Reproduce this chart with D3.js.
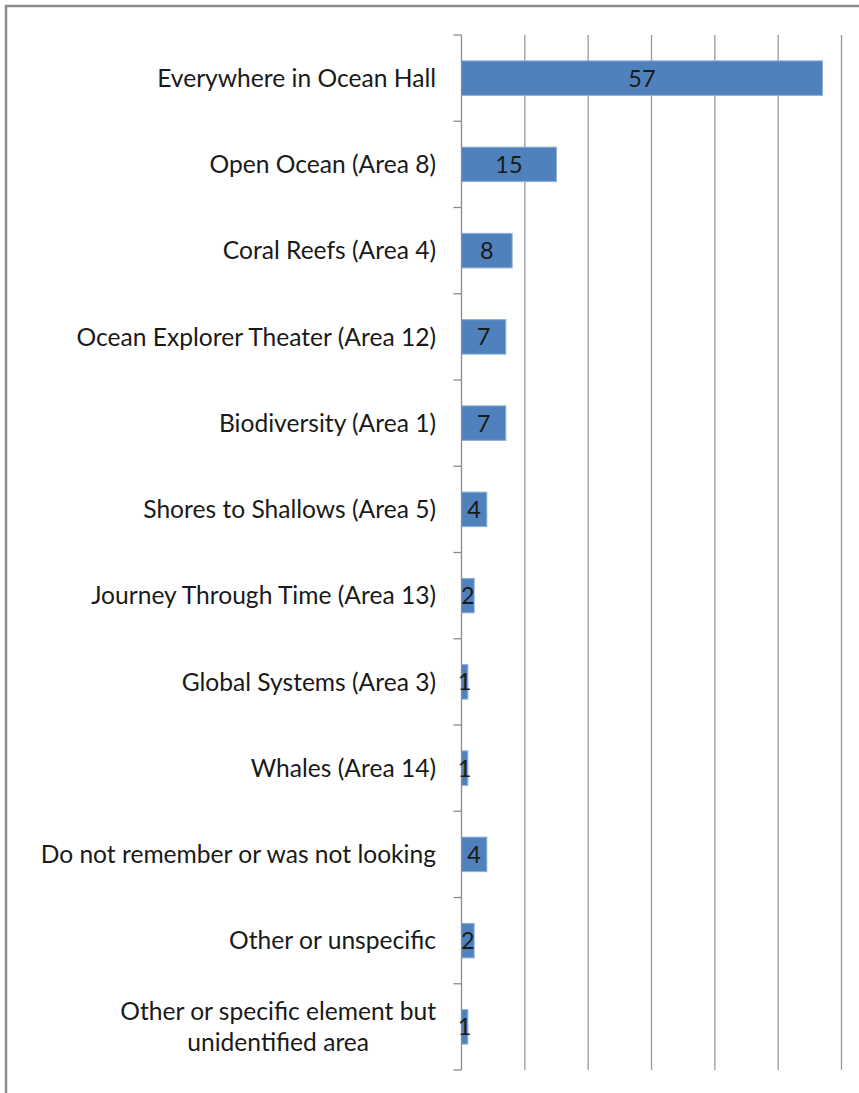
<!DOCTYPE html>
<html>
<head>
<meta charset="utf-8">
<script src="https://cdn.jsdelivr.net/npm/d3@7"></script>
<style>
  html, body { margin: 0; padding: 0; background: #fff; }
  svg { display: block; }
  text { font-family: Lato, "Open Sans", sans-serif; fill: #1a1a1a; }
</style>
</head>
<body>
<script>
// Where visitors say they saw it in Ocean Hall (counts)
const categories = [
  "Everywhere in Ocean Hall",
  "Open Ocean (Area 8)",
  "Coral Reefs (Area 4)",
  "Ocean Explorer Theater (Area 12)",
  "Biodiversity (Area 1)",
  "Shores to Shallows (Area 5)",
  "Journey Through Time (Area 13)",
  "Global Systems (Area 3)",
  "Whales (Area 14)",
  "Do not remember or was not looking",
  "Other or unspecific",
  "Other or specific element but unidentified area"
];
const values = [57, 15, 8, 7, 7, 4, 2, 1, 1, 4, 2, 1];
const xTicks = [0, 10, 20, 30, 40, 50, 60];

const W = 859, H = 1093;
const labelSize = 24.6, valueSize = 23.5;
const svg = d3.select("body").append("svg").attr("width", W).attr("height", H);

// Chart frame (runs off the right and bottom edges)
svg.append("path")
  .attr("d", `M6,${H + 5} L6,6 L${W + 5},6`)
  .attr("fill", "none")
  .attr("stroke", "#8c8c8c")
  .attr("stroke-width", 2.5);

const x = d3.scaleLinear().domain([0, 60]).range([461.5, 841.5]);
const y = d3.scaleBand().domain(categories).range([35, 1070]).paddingInner(0.6).paddingOuter(0.3);

// Vertical gridlines
svg.append("g").selectAll("line")
  .data(xTicks.slice(1))
  .join("line")
  .attr("x1", d => x(d)).attr("x2", d => x(d))
  .attr("y1", 35).attr("y2", 1070)
  .attr("stroke", "#9a9a9a")
  .attr("stroke-width", 1.3);

// Bars
svg.append("g").selectAll("rect")
  .data(categories)
  .join("rect")
  .attr("x", x(0))
  .attr("y", d => y(d))
  .attr("width", (d, i) => x(values[i]) - x(0))
  .attr("height", y.bandwidth())
  .attr("fill", "#4f81bd")
  .attr("stroke", "#8eb0d9")
  .attr("stroke-width", 1);

// Category axis with outward ticks at band boundaries
const bounds = d3.range(categories.length + 1).map(i => 35 + i * (1035 / categories.length));
const axisG = svg.append("g");
axisG.append("line")
  .attr("x1", x(0)).attr("x2", x(0)).attr("y1", 35).attr("y2", 1070)
  .attr("stroke", "#8c8c8c").attr("stroke-width", 1.3);
axisG.selectAll("line.tick")
  .data(bounds)
  .join("line")
  .attr("class", "tick")
  .attr("x1", x(0) - 8).attr("x2", x(0))
  .attr("y1", d => d).attr("y2", d => d)
  .attr("stroke", "#8c8c8c").attr("stroke-width", 1.3);

// Category labels, long ones wrapped onto two centred lines
const labelSplit = {
  "Other or specific element but unidentified area": ["Other or specific element but", "unidentified area"]
};
const labels = svg.append("g").selectAll("g")
  .data(categories)
  .join("g")
  .attr("transform", d => `translate(436,${y(d) + y.bandwidth() / 2})`);
labels.each(function (d) {
  const g = d3.select(this);
  const lines = labelSplit[d];
  if (!lines) {
    g.append("text")
      .attr("text-anchor", "end")
      .attr("dy", "0.35em")
      .attr("font-size", labelSize)
      .text(d);
  } else {
    const t = g.append("text").attr("font-size", labelSize).attr("text-anchor", "end").attr("y", -16).attr("dy", "0.35em").text(lines[0]);
    const w = t.node().getComputedTextLength();
    g.append("text")
      .attr("font-size", labelSize)
      .attr("text-anchor", "middle")
      .attr("x", -w / 2)
      .attr("y", 16)
      .attr("dy", "0.35em")
      .text(lines[1]);
  }
});

// Value labels centred on each bar
svg.append("g").selectAll("text")
  .data(categories)
  .join("text")
  .attr("x", (d, i) => (x(0) + x(values[i])) / 2)
  .attr("y", d => y(d) + y.bandwidth() / 2)
  .attr("dy", "0.36em")
  .attr("text-anchor", "middle")
  .attr("font-size", valueSize)
  .text((d, i) => values[i]);
</script>
</body>
</html>
